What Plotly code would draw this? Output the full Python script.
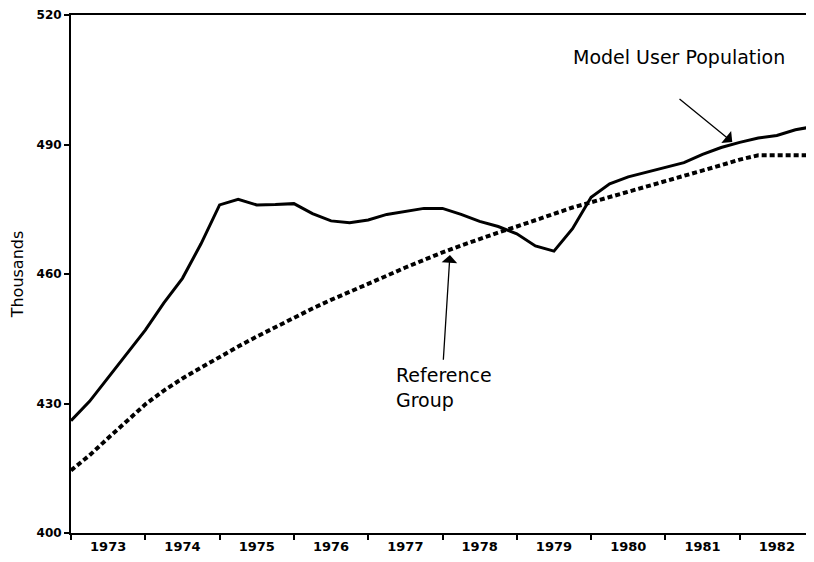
import plotly.graph_objects as go

# Quarterly points, decimal years 1973.00 .. 1983.00
annees = [1973 + i * 0.25 for i in range(41)]

population_modele = [
    426.0, 430.5, 436.0, 441.5, 447.0, 453.3, 459.0, 467.0,
    476.0, 477.3, 476.0, 476.1, 476.3, 474.0, 472.3, 471.9,
    472.5, 473.8, 474.5, 475.2, 475.2, 473.8, 472.2, 471.0,
    469.3, 466.5, 465.3, 470.5, 477.8, 480.9, 482.5, 483.6,
    484.6, 485.8, 487.7, 489.3, 490.5, 491.5, 492.1, 493.4,
    494.2,
]

groupe_reference = [
    414.5, 418.0, 422.0, 426.0, 429.8, 433.0, 435.8, 438.3,
    440.8, 443.2, 445.5, 447.7, 450.0, 452.0, 454.0, 455.8,
    457.7, 459.6, 461.5, 463.3, 465.0, 466.6, 468.2, 469.6,
    471.0, 472.5, 474.0, 475.4, 476.6, 477.8, 479.0, 480.2,
    481.5, 482.7, 483.9, 485.2, 486.5, 487.5, 487.5, 487.5,
    487.5,
]

libelles_annees = ["1973", "1974", "1975", "1976", "1977",
                   "1978", "1979", "1980", "1981", "1982"]
graduations_y = [400, 430, 460, 490, 520]

fig = go.Figure()

fig.add_trace(go.Scatter(
    x          = annees,
    y          = groupe_reference,
    name       = "Reference Group",
    mode       = "lines",
    line       = dict(color="black", width=4, dash="5px,3px"),
))
fig.add_trace(go.Scatter(
    x          = annees,
    y          = population_modele,
    name       = "Model User Population",
    mode       = "lines",
    line       = dict(color="black", width=3),
))

police = "DejaVu Sans"

fig.add_annotation(
    x=1981.18, y=510.2, text="Model User Population", showarrow=False,
    font=dict(family=police, size=19, color="black"),
)
fig.add_annotation(
    x=1981.90, y=490.6, ax=1981.17, ay=500.8, axref="x", ayref="y",
    text="", showarrow=True, arrowhead=1, arrowsize=2, arrowwidth=1.3,
    arrowcolor="black",
)
fig.add_annotation(
    x=1977.35, y=433.8, text="Reference<br>Group", showarrow=False,
    xanchor="left", align="left",
    font=dict(family=police, size=19, color="black"),
)
fig.add_annotation(
    x=1978.10, y=464.4, ax=1978.01, ay=439.8, axref="x", ayref="y",
    text="", showarrow=True, arrowhead=1, arrowsize=2, arrowwidth=1.3,
    arrowcolor="black",
)

# la page a une marge de 8 px : la figure est réduite d'autant
fig.update_layout(
    width         = 806,
    height        = 546,
    showlegend    = False,
    margin        = dict(l=63, r=0, t=3, b=18),
    paper_bgcolor = "white",
    plot_bgcolor  = "white",
    font          = dict(family=police, color="black"),
    xaxis = dict(
        range       = [1973, 1983],
        tickvals    = [1973.5 + i for i in range(len(libelles_annees))],
        ticktext    = libelles_annees,
        ticks       = "",
        tickfont    = dict(family=police, size=13, weight="bold"),
        showgrid    = False,
        zeroline    = False,
        showline    = True,
        linecolor   = "black",
        linewidth   = 2,
        mirror      = True,
        minor       = dict(tick0=1973, dtick=1, ticks="outside", ticklen=5,
                           tickcolor="black", tickwidth=2, showgrid=False),
    ),
    yaxis = dict(
        range       = [400, 520],
        tickvals    = graduations_y,
        ticks       = "outside",
        ticklen     = 5,
        tickwidth   = 2,
        tickcolor   = "black",
        tickfont    = dict(family=police, size=12, weight="bold"),
        ticklabeloverflow = "allow",
        title       = dict(text="Thousands", font=dict(family=police, size=16), standoff=12),
        showgrid    = False,
        zeroline    = False,
        showline    = True,
        linecolor   = "black",
        linewidth   = 2,
    ),
)

fig.write_html("out.html")
